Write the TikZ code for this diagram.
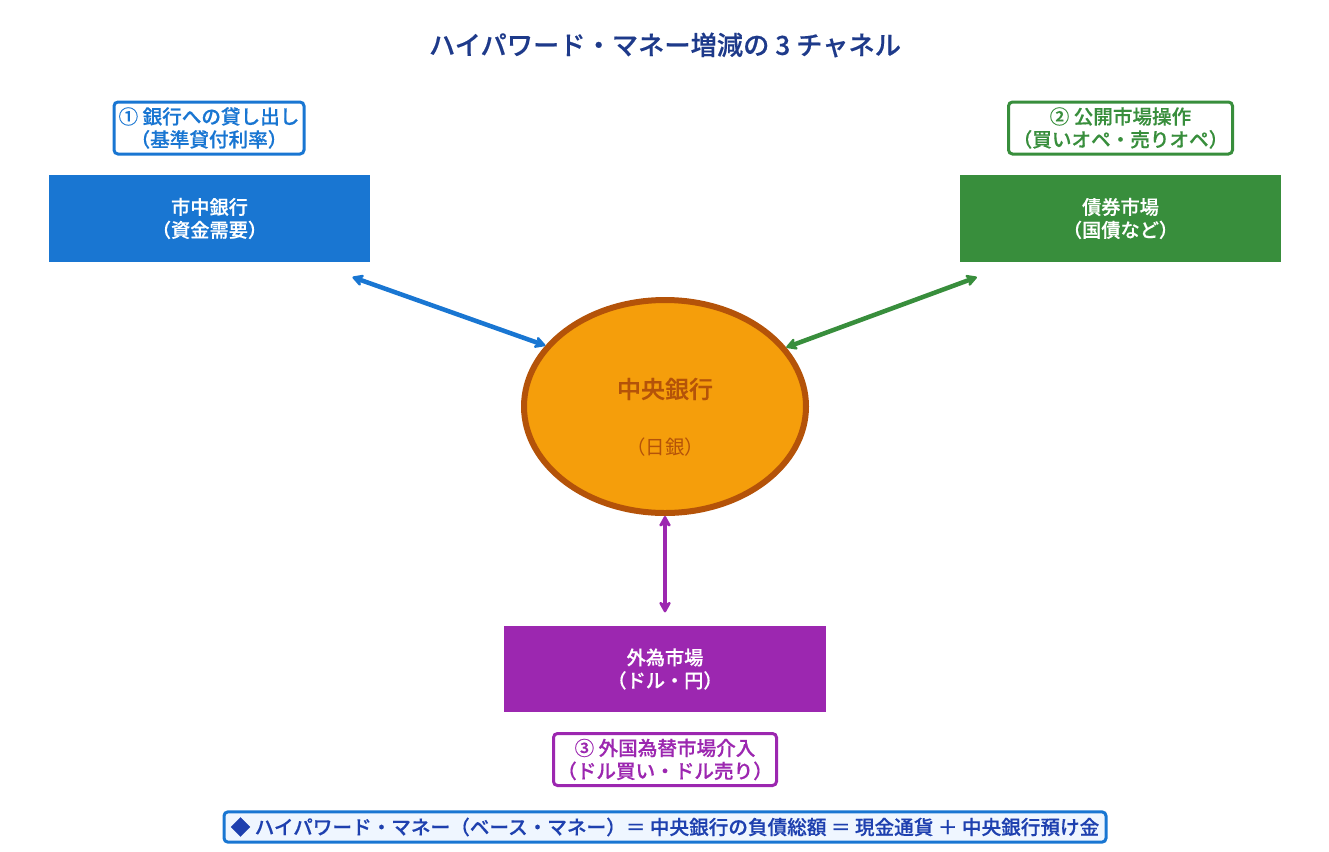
\documentclass[tikz,border=0pt]{standalone}
\usepackage{fontspec}
\setmainfont{Noto Sans CJK JP}[BoldFont={Noto Sans CJK JP Medium},BoldFeatures={FakeBold=0.4}]
\usetikzlibrary{arrows.meta}
\usetikzlibrary{shapes.geometric}

\definecolor{bankblue}{HTML}{1976D2}
\definecolor{bondgreen}{HTML}{388E3C}
\definecolor{fxpurple}{HTML}{9C27B0}
\definecolor{cbfill}{HTML}{F59E0B}
\definecolor{cbline}{HTML}{B45309}
\definecolor{titleblue}{HTML}{1E3A8A}
\definecolor{noteblue}{HTML}{1E40AF}
\definecolor{notefill}{HTML}{EFF6FF}

\tikzset{
    market/.style={fill=#1, text=white, font=\fontsize{14.4}{17.2}\selectfont\bfseries, align=center,
        inner sep=0pt, minimum width=241pt, minimum height=65pt},
    channel/.style={draw=#1, text=#1, fill=white, line width=2.25pt, rounded corners=3pt,
        font=\fontsize{14.7}{17.2}\selectfont\bfseries, align=center, inner sep=0pt, minimum height=39pt},
    twoway/.style={draw=#1, line width=3.4pt, {Stealth[length=10pt,width=11pt,inset=3pt,round]}-{Stealth[length=10pt,width=11pt,inset=3pt,round]}}
}

\begin{document}
\begin{tikzpicture}[x=0.75pt, y=-0.75pt]

\useasboundingbox (0,0) rectangle (1329,851);

% Title
\node[text=titleblue, font=\fontsize{19.7}{23}\selectfont\bfseries] (title) at (665,45) {ハイパワード・マネー増減の 3 チャネル};

% Central bank
\node[ellipse, draw=cbline, fill=cbfill, line width=4.5pt, minimum width=211.5pt, minimum height=159.75pt, inner sep=0pt] (cb) at (665,406.5) {};
\node[text=cbline, font=\fontsize{18}{21}\selectfont\bfseries] (cbname) at (665,389) {中央銀行};
\node[text=cbline, font=\fontsize{14.6}{17}\selectfont] (cbshort) at (665,447) {（日銀）};

% Markets
\node[market=bankblue] (bank) at (209.5,218.5) {市中銀行\\（資金需要）};
\node[market=bondgreen] (bond) at (1120.5,218.5) {債券市場\\（国債など）};
\node[market=fxpurple] (fx) at (665,669) {外為市場\\（ドル・円）};

% Channel labels
\node[channel=bankblue, minimum width=142.5pt] (ch1) at (209,128) {① 銀行への貸し出し\\（基準貸付利率）};
\node[channel=bondgreen, minimum width=168pt] (ch2) at (1120.5,128) {② 公開市場操作\\（買いオペ・売りオペ）};
\node[channel=fxpurple, minimum width=167.25pt] (ch3) at (665,759.5) {③ 外国為替市場介入\\（ドル買い・ドル売り）};

% Connections
\draw[twoway=bankblue] ([xshift=-13.5pt,yshift=-11.25pt]bank.south east) -- (cb.153);
\draw[twoway=bondgreen] ([xshift=13pt,yshift=-11.25pt]bond.south west) -- (cb.26.5);
\draw[twoway=fxpurple] (cb.south) -- ([yshift=9.75pt]fx.north);

% Definition
\node[draw=bankblue, fill=notefill, text=noteblue, line width=2.25pt, rounded corners=3pt, inner sep=0pt,
    minimum width=661.5pt, minimum height=22.75pt, font=\fontsize{14.72}{17}\selectfont\bfseries] (note) at (665,827)
    {◆ ハイパワード・マネー（ベース・マネー）＝ 中央銀行の負債総額 ＝ 現金通貨 ＋ 中央銀行預け金};

\end{tikzpicture}
\end{document}
